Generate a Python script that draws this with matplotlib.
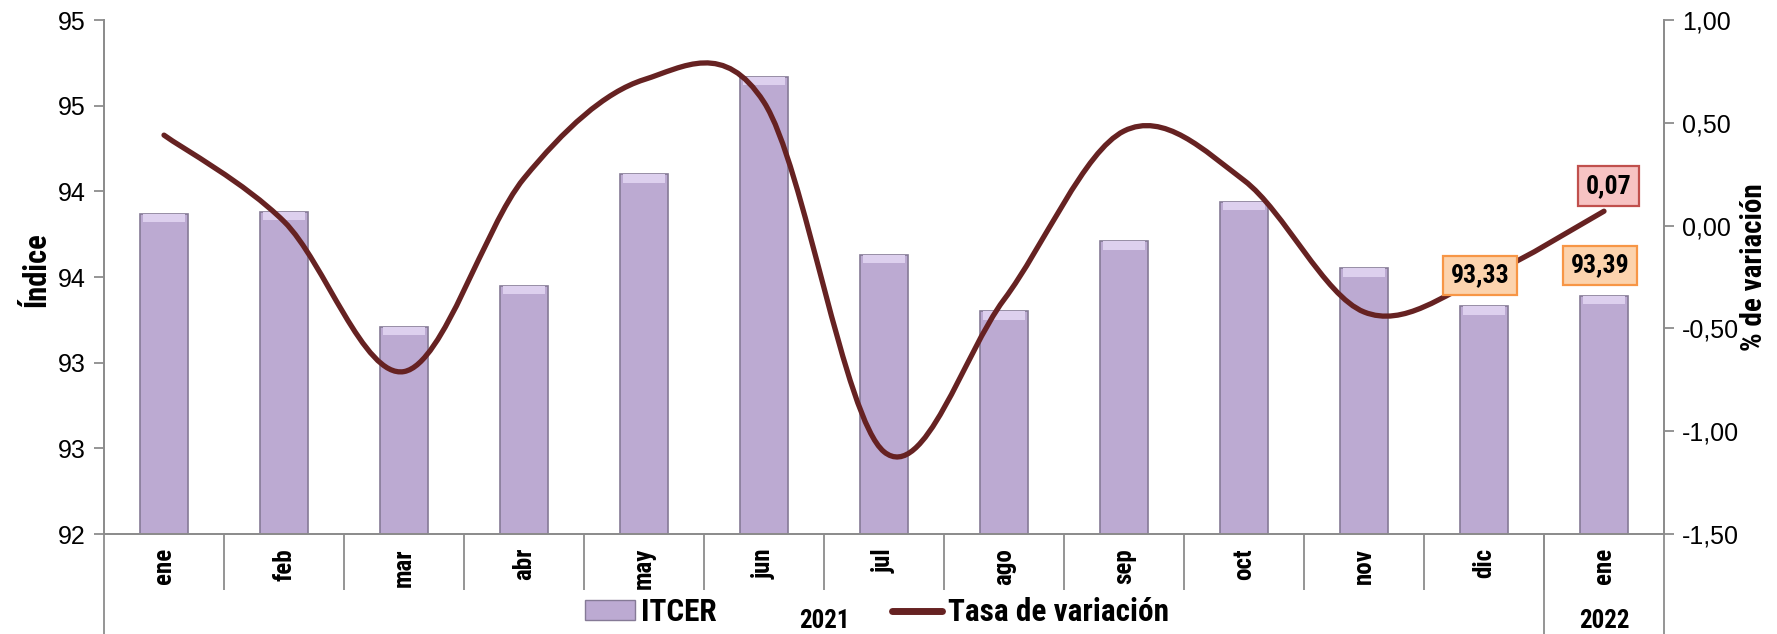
import matplotlib
matplotlib.use("Agg")
import matplotlib.pyplot as plt
from matplotlib import font_manager as fm
from matplotlib.font_manager import FontProperties
from matplotlib.path import Path
from matplotlib.patches import PathPatch, Patch
from matplotlib.lines import Line2D
import matplotlib.transforms as mtransforms
import numpy as np

# ---------------- data ----------------
months = ["ene", "feb", "mar", "abr", "may", "jun", "jul", "ago", "sep", "oct", "nov", "dic", "ene"]
years = ["2021", "2022"]
year_spans = [(0, 11), (12, 12)]
itcer = [93.87, 93.88, 93.21, 93.45, 94.10, 94.67, 93.63, 93.30, 93.71, 93.94, 93.55, 93.33, 93.39]
tasa = [0.44, 0.02, -0.71, 0.23, 0.71, 0.60, -1.10, -0.36, 0.46, 0.22, -0.42, -0.25, 0.07]
left_ticks = [92.0, 92.5, 93.0, 93.5, 94.0, 94.5, 95.0]
left_tick_labels = ["92", "93", "93", "94", "94", "95", "95"]
right_ticks = [-1.5, -1.0, -0.5, 0.0, 0.5, 1.0]
right_tick_labels = ["-1,50", "-1,00", "-0,50", "0,00", "0,50", "1,00"]
bar_labels = {11: "93,33", 12: "93,39"}
line_labels = {12: "0,07"}

# ---------------- fonts ----------------
entries = fm.fontManager.ttflist
names = {f.name for f in entries}
NAR_FAM, NAR_STRETCH, SCALE = "Liberation Sans", "normal", 0.86
chosen = False
for nm in ["Liberation Sans Narrow", "Arial Narrow", "Roboto Condensed", "Open Sans Condensed",
           "Noto Sans Condensed", "Noto Sans Display Condensed"]:
    if nm in names:
        NAR_FAM, NAR_STRETCH, SCALE, chosen = nm, "normal", 1.0, True
        break
if not chosen:
    for pref in ["Liberation Sans", "Roboto", "Noto Sans", "Open Sans", "DejaVu Sans", "Lato", "Inter"]:
        hits = [f for f in entries if f.name == pref and str(f.stretch) in
                ("condensed", "semi-condensed", "extra-condensed", "ultra-condensed")]
        if hits:
            NAR_FAM, NAR_STRETCH, SCALE, chosen = pref, "condensed", 1.0, True
            break
if not chosen:
    for f in entries:
        if "Narrow" in f.name or "Condensed" in f.name:
            NAR_FAM, NAR_STRETCH, SCALE, chosen = f.name, "normal", 1.0, True
            break
REG = "Liberation Sans"


def nfp(size):
    return FontProperties(family=NAR_FAM, weight="bold", stretch=NAR_STRETCH, size=size * SCALE)


W, H = 1777, 634
fig = plt.figure(figsize=(W / 100, H / 100), dpi=100)
x0, x1, yb, yt = 104, 1664, 534, 20
ax = fig.add_axes([x0 / W, (H - yb) / H, (x1 - x0) / W, (yb - yt) / H])
ax2 = ax.twinx()

x = np.arange(len(months))
AX_COL = "#8c8c8c"
BAR_COL = "#bcaad2"

# bars
bar_w = 0.40
ax.bar(x, np.array(itcer) - 92, bottom=92, width=bar_w, color=BAR_COL,
       edgecolor="#857a96", linewidth=1.2, zorder=2)
ax.bar(x, 0.05, bottom=np.array(itcer) - 0.05, width=bar_w * 0.86,
       color="#ddd0ee", edgecolor="none", zorder=3)
ax.set_ylim(92, 95)
ax.set_xlim(-0.5, len(months) - 0.5)

# smooth line (Catmull-Rom style bezier through the data points)
xs = x.astype(float)
ys = np.array(tasa, dtype=float)
verts = [(xs[0], ys[0])]
codes = [Path.MOVETO]
n = len(xs)
for i in range(n - 1):
    p0 = np.array([xs[max(i - 1, 0)], ys[max(i - 1, 0)]])
    p1 = np.array([xs[i], ys[i]])
    p2 = np.array([xs[i + 1], ys[i + 1]])
    p3 = np.array([xs[min(i + 2, n - 1)], ys[min(i + 2, n - 1)]])
    c1 = p1 + (p2 - p0) / 6.0
    c2 = p2 - (p3 - p1) / 6.0
    verts += [tuple(c1), tuple(c2), tuple(p2)]
    codes += [Path.CURVE4] * 3
LINE_COL = "#662222"
ax2.add_patch(PathPatch(Path(verts, codes), facecolor="none", edgecolor=LINE_COL,
                        lw=3.8, capstyle="round", joinstyle="round", zorder=5))
ax2.set_ylim(-1.5, 1.0)

# ticks / spines
for a in (ax, ax2):
    a.spines["top"].set_visible(False)
    for s in ("left", "right", "bottom"):
        a.spines[s].set_color(AX_COL)
        a.spines[s].set_linewidth(1.3)
ax.set_yticks(left_ticks)
ax.set_yticklabels(left_tick_labels, fontsize=18, family=REG)
ax2.set_yticks(right_ticks)
ax2.set_yticklabels(right_tick_labels, fontsize=18, family=REG)
ax.tick_params(axis="y", direction="out", length=7, width=1.3, color=AX_COL, pad=6)
ax2.tick_params(axis="y", direction="out", length=7, width=1.3, color=AX_COL, pad=6)

ax.set_xticks(x)
ax.set_xticklabels(months, rotation=90)
for lab in ax.get_xticklabels():
    lab.set_fontproperties(nfp(18))
ax.tick_params(axis="x", which="major", length=0, pad=10)
ax.set_xticks(np.arange(0.5, len(months) - 1, 1.0), minor=True)
ax.tick_params(axis="x", which="minor", length=40, width=1.3, color=AX_COL, direction="out")

# long separators (axis extensions and year separator)
ext = -(H - yb) / (yb - yt)
trans = mtransforms.blended_transform_factory(ax.transData, ax.transAxes)
for xv in (-0.5, 11.5, 12.5):
    ax.add_line(Line2D([xv, xv], [0, ext], transform=trans, color=AX_COL, lw=1.3, clip_on=False))

# year labels
for yr, (a, b) in zip(years, year_spans):
    ax.text((a + b) / 2, -0.17, yr, transform=trans, ha="center", va="center",
            fontproperties=nfp(18))

# axis titles
ax.set_ylabel("Índice", fontproperties=nfp(22))
ax.yaxis.set_label_coords(-0.034, 0.515)
ax2.set_ylabel("% de variación", fontproperties=nfp(21), rotation=90)
ax2.yaxis.set_label_coords(1.049, 0.52)

# data labels
for i, txt in bar_labels.items():
    ax2.annotate(txt, xy=(x[i], itcer[i]), xycoords=ax.transData, xytext=(-3, 22),
                 textcoords="offset points", ha="center", va="center",
                 fontproperties=nfp(18.5), zorder=10,
                 bbox=dict(boxstyle="square,pad=0.3", fc="#fcd3ad", ec="#f79646", lw=1.6))
for i, txt in line_labels.items():
    ax2.annotate(txt, xy=(x[i], tasa[i]), xycoords="data", xytext=(3, 18),
                 textcoords="offset points", ha="center", va="center",
                 fontproperties=nfp(18.5), zorder=10,
                 bbox=dict(boxstyle="square,pad=0.3", fc="#f7c3c3", ec="#c0504d", lw=1.6))

# legend
handles = [Patch(facecolor=BAR_COL, edgecolor="#857a96", label="ITCER"),
           Line2D([0], [0], color=LINE_COL, lw=5, solid_capstyle="round", label="Tasa de variación")]
leg = fig.legend(handles=handles, loc="center", bbox_to_anchor=(877 / W, 1 - 612 / H),
                 ncol=2, frameon=False, handlelength=1.6, handleheight=0.6, handletextpad=0.2,
                 columnspacing=5.6, prop=nfp(22.5))

fig.savefig("out.png", dpi=100)
